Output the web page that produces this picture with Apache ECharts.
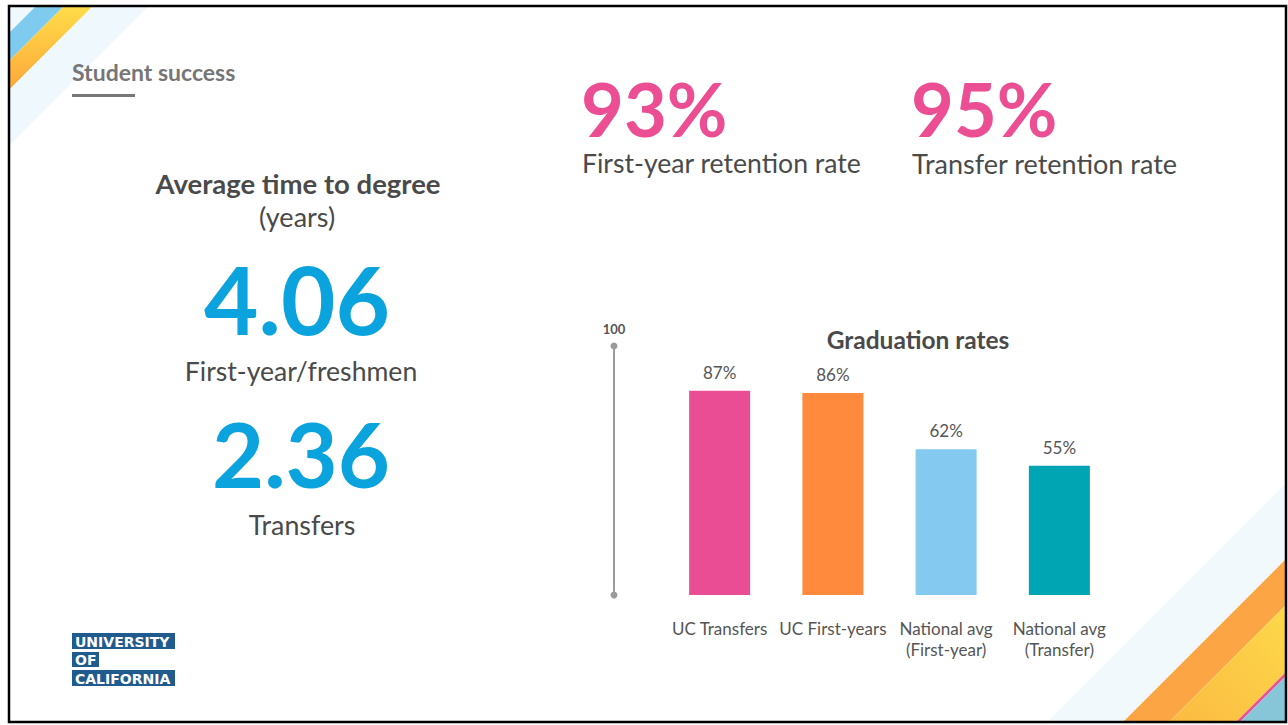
<!DOCTYPE html>
<html>
<head>
<meta charset="utf-8">
<script src="https://cdn.jsdelivr.net/npm/echarts@6/dist/echarts.min.js"></script>
<style>
  html, body { margin: 0; padding: 0; background: #fff; }
  #main { width: 1288px; height: 725px; }
</style>
</head>
<body>
<div id="main"></div>
<script>
// graduation rates chart
const categories = ['UC Transfers', 'UC First-years', 'National avg\n(First-year)', 'National avg\n(Transfer)'];
const gradRates = [87, 86, 62, 55];
const barColors = ['#eb4d94', '#ff8a3d', '#84caf0', '#00a5b3'];

// headline numbers
const retentionLabels = ['First-year retention rate', 'Transfer retention rate'];
const retentionRates = [93, 95];
const degreeLabels = ['First-year/freshmen', 'Transfers'];
const degreeYears = [4.06, 2.36];

const FONT = 'Lato, "Open Sans", sans-serif';
const GRAY = '#4a4a4a';

let myChart = echarts.init(document.getElementById('main'), null, { renderer: 'svg' });

function txt(x, y, text, size, color, weight, align) {
  return {
    type: 'text', x: x, y: y, z: 10,
    style: {
      text: text, fill: color, font: (weight || 'normal') + ' ' + size + 'px ' + FONT,
      textAlign: align || 'left', textVerticalAlign: 'middle', lineHeight: size
    }
  };
}

// background stripes (decoration only)
let deco = [
  { type: 'polygon', shape: { points: [[10, 7], [35, 7], [10, 32]] }, style: { fill: '#eef8fd' } },
  { type: 'polygon', shape: { points: [[35, 7], [63, 7], [10, 60], [10, 32]] }, style: { fill: '#7fcbef' } },
  { type: 'polygon', shape: { points: [[63, 7], [92, 7], [10, 89], [10, 60]] },
    style: { fill: new echarts.graphic.LinearGradient(0, 0, 0, 1, [{ offset: 0, color: '#ffdc48' }, { offset: 1, color: '#ffa83c' }]) } },
  { type: 'polygon', shape: { points: [[92, 7], [148, 7], [10, 145], [10, 89]] }, style: { fill: '#eff8fd' } },

  { type: 'polygon', shape: { points: [[1048, 721], [1285, 484], [1285, 560], [1124, 721]] }, style: { fill: '#f1f9fd' } },
  { type: 'polygon', shape: { points: [[1124, 721], [1285, 560], [1285, 606], [1170, 721]] }, style: { fill: '#fca544' } },
  { type: 'polygon', shape: { points: [[1170, 721], [1285, 606], [1285, 673], [1237, 721]] },
    style: { fill: new echarts.graphic.LinearGradient(0, 1, 1, 0, [{ offset: 0, color: '#fbbb42' }, { offset: 1, color: '#fdd84a' }]) } },
  { type: 'polygon', shape: { points: [[1237, 721], [1285, 673], [1285, 677], [1241, 721]] }, style: { fill: '#ec4e93' } },
  { type: 'polygon', shape: { points: [[1241, 721], [1285, 677], [1285, 721]] }, style: { fill: '#86c6d8' } },

  { type: 'rect', shape: { x: 9, y: 6, width: 1277, height: 716 }, style: { fill: 'none', stroke: '#000', lineWidth: 2.5 }, z: 20 }
];

let texts = [
  txt(72, 72, 'Student success', 23, '#767676', 'bold'),
  { type: 'rect', shape: { x: 72, y: 94, width: 63, height: 3 }, style: { fill: '#777' } },

  txt(581, 108, retentionRates[0] + '%', 74, '#ec4e93', 'bold'),
  txt(582, 163, retentionLabels[0], 26.6, GRAY),
  txt(911, 108, retentionRates[1] + '%', 74, '#ec4e93', 'bold'),
  txt(912, 163, retentionLabels[1], 27, GRAY),

  txt(298, 183, 'Average time to degree', 27.5, GRAY, 'bold', 'center'),
  txt(297, 216, '(years)', 27, GRAY, 'normal', 'center'),
  txt(297, 298, degreeYears[0].toFixed(2), 94, '#0aa3de', 'bold', 'center'),
  txt(301, 371, degreeLabels[0], 26.6, GRAY, 'normal', 'center'),
  txt(301, 453, degreeYears[1].toFixed(2), 90, '#0aa3de', 'bold', 'center'),
  txt(302, 525, degreeLabels[1], 26.8, GRAY, 'normal', 'center'),

  txt(918, 339, 'Graduation rates', 24.5, GRAY, 'bold', 'center'),

  // logo
  { type: 'rect', shape: { x: 72, y: 633, width: 103, height: 16 }, style: { fill: '#1f5b8e' } },
  { type: 'rect', shape: { x: 72, y: 652, width: 27, height: 15 }, style: { fill: '#1f5b8e' } },
  { type: 'rect', shape: { x: 72, y: 670, width: 103, height: 16 }, style: { fill: '#1f5b8e' } },
  { type: 'text', x: 75, y: 641.5, z: 10, style: { text: 'UNIVERSITY', fill: '#fff', font: 'bold 14px "DejaVu Sans"', textVerticalAlign: 'middle' } },
  { type: 'text', x: 75, y: 660, z: 10, style: { text: 'OF', fill: '#fff', font: 'bold 14px "DejaVu Sans"', textVerticalAlign: 'middle' } },
  { type: 'text', x: 75, y: 678.5, z: 10, style: { text: 'CALIFORNIA', fill: '#fff', font: 'bold 14px "DejaVu Sans"', textVerticalAlign: 'middle' } }
];

let option = {
  backgroundColor: '#fff',
  animation: false,
  textStyle: { fontFamily: FONT },
  grid: { left: 663, right: 172, top: 346, bottom: 130 },
  xAxis: {
    type: 'category',
    data: categories,
    axisLine: { show: false },
    axisTick: { show: false },
    axisLabel: { interval: 0, margin: 23, fontSize: 17, lineHeight: 21, color: '#555', fontFamily: FONT }
  },
  yAxis: {
    type: 'value',
    min: 0,
    max: 106,
    offset: 49,
    name: '100',
    nameLocation: 'end',
    nameGap: 11,
    nameTextStyle: { fontSize: 13, fontWeight: 'bold', color: '#555', align: 'center', fontFamily: FONT },
    axisLine: { show: true, symbol: ['circle', 'circle'], symbolSize: [7, 7], lineStyle: { color: '#9b9b9b', width: 2 } },
    axisTick: { show: false },
    axisLabel: { show: false },
    splitLine: { show: false }
  },
  series: [{
    type: 'bar',
    barWidth: 61,
    data: gradRates.map((v, i) => ({ value: v, itemStyle: { color: barColors[i] } })),
    label: { show: true, position: 'top', distance: 10, formatter: '{c}%', fontSize: 17, color: '#555', fontFamily: FONT }
  }],
  graphic: deco.concat(texts)
};

myChart.setOption(option);
window.onresize = () => { myChart.resize(); };
</script>
</body>
</html>
